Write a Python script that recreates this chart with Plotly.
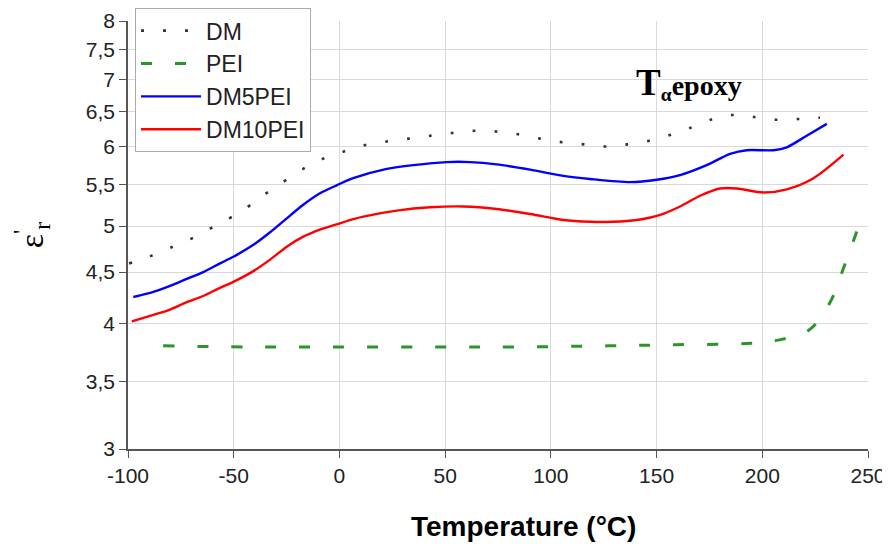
import plotly.graph_objects as go

# ---- data ----
dm_x = [-99.5, -89.1, -79.7, -70.7, -61.2, -52.7, -43.7, -35.2, -26.7, -17.2, -8.2, 1.8, 12.1, 22.4,
        32.9, 42.9, 53.4, 63.7, 74.1, 84.6, 94.9, 105.2, 115.7, 126.0, 136.2, 146.5, 156.4, 165.8,
        175.6, 186.0, 196.1, 206.5, 217.1, 227.3]
dm_y = [4.59, 4.67, 4.76, 4.85, 4.97, 5.08, 5.22, 5.38, 5.53, 5.70, 5.83, 5.93, 6.02, 6.07,
        6.11, 6.15, 6.19, 6.22, 6.21, 6.17, 6.11, 6.06, 6.03, 6.00, 6.03, 6.08, 6.16, 6.26,
        6.38, 6.45, 6.42, 6.38, 6.39, 6.41]

pei_x = [-83.4, -42.3, 0.3, 52.3, 79.3, 127.1, 159.2, 191.9, 207.5, 222.1, 232.1, 238.4, 245.3]
pei_y = [3.80, 3.79, 3.79, 3.79, 3.79, 3.80, 3.81, 3.82, 3.85, 3.94, 4.20, 4.54, 4.98]

dm5_x = [-97.5, -88.0, -80.1, -72.2, -64.4, -56.5, -50.2, -40.7, -32.8, -24.9, -17.1, -9.2, -1.3,
         6.5, 22.4, 35.0, 50.8, 61.8, 74.4, 90.2, 105.9, 118.5, 137.5, 150.1, 161.1, 173.7,
         184.8, 192.7, 205.3, 211.6, 221.0, 230.5]
dm5_y = [4.25, 4.30, 4.36, 4.43, 4.50, 4.59, 4.66, 4.79, 4.93, 5.09, 5.25, 5.39, 5.49,
         5.58, 5.70, 5.75, 5.79, 5.79, 5.76, 5.69, 5.61, 5.57, 5.53, 5.56, 5.62, 5.75,
         5.90, 5.95, 5.95, 5.99, 6.15, 6.32]

dm10_x = [-98.2, -88.0, -80.1, -72.2, -64.4, -56.5, -50.2, -40.7, -32.8, -24.9, -17.1, -9.2, -1.3,
          6.5, 11.3, 27.1, 42.9, 58.6, 74.4, 90.2, 105.9, 118.5, 129.6, 140.6, 151.7, 161.1,
          170.6, 180.0, 187.9, 200.5, 211.6, 224.2, 238.4]
dm10_y = [4.02, 4.08, 4.13, 4.20, 4.26, 4.34, 4.40, 4.51, 4.63, 4.77, 4.88, 4.96, 5.02,
          5.08, 5.11, 5.18, 5.22, 5.23, 5.20, 5.14, 5.07, 5.05, 5.05, 5.07, 5.13, 5.23,
          5.36, 5.45, 5.45, 5.40, 5.44, 5.58, 5.89]

x_ticks = [-100, -50, 0, 50, 100, 150, 200, 250]
x_ticktext = ["-100", "-50", "0", "50", "100", "150", "200", "250"]
y_ticks = [3, 3.5, 4, 4.5, 5, 5.5, 6, 6.5, 7, 7.5, 8]
y_ticktext = ["3", "3,5", "4", "4,5", "5", "5,5", "6", "6,5", "7", "7,5", "8"]

fig = go.Figure()
fig.add_trace(go.Scatter(x=dm_x, y=dm_y, name="DM", mode="lines",
                         line=dict(color="#333333", width=2.6, dash="3px,19px", shape="spline",
                                   smoothing=0.8)))
fig.add_trace(go.Scatter(x=pei_x, y=pei_y, name="PEI", mode="lines",
                         line=dict(color="#2a962a", width=3, dash="11px,23px", shape="spline")))
fig.add_trace(go.Scatter(x=dm5_x, y=dm5_y, name="DM5PEI", mode="lines",
                         line=dict(color="#0000ff", width=2.4, shape="spline", smoothing=0.8)))
fig.add_trace(go.Scatter(x=dm10_x, y=dm10_y, name="DM10PEI", mode="lines",
                         line=dict(color="#ff0000", width=2.4, shape="spline", smoothing=0.8)))

fig.add_annotation(xref="paper", yref="paper", x=0.535, y=-0.182, xanchor="center", yanchor="middle",
                   text="<b>Temperature (°C)</b>", showarrow=False,
                   font=dict(family="Liberation Sans", size=28, color="#000000"))
fig.add_annotation(xref="x", yref="paper", x=139.5, y=0.855, xanchor="left", yanchor="middle",
                   text="<b><span style='font-size:37px'>T</span><sub>α</sub>epoxy</b>",
                   showarrow=False,
                   font=dict(family="Liberation Serif", size=28, color="#000000"))

fig.update_layout(
    width=882, height=536,
    margin=dict(l=120, r=22, t=13, b=95, autoexpand=False),
    paper_bgcolor="white", plot_bgcolor="white",
    separators=", ",
    font=dict(family="Liberation Sans", size=21, color="#222222"),
    legend=dict(x=0.0095, y=1.03, xanchor="left", yanchor="top",
                bgcolor="white", bordercolor="#aaaaaa", borderwidth=1,
                font=dict(family="Liberation Sans", size=23, color="#222222"),
                itemwidth=60, tracegroupgap=0),
    xaxis=dict(range=[-100, 250], tickvals=x_ticks, ticktext=x_ticktext, automargin=False,
               showgrid=True, gridcolor="#d9d9d9", gridwidth=1,
               showline=True, linecolor="#555555", linewidth=1.5,
               ticks="outside", ticklen=7, tickcolor="#555555", zeroline=False,
               tickfont=dict(size=21, color="#222222")),
    yaxis=dict(type="log", range=[0.47712, 0.90309], tickvals=y_ticks, ticktext=y_ticktext,
               automargin=False,
               showgrid=True, gridcolor="#d9d9d9", gridwidth=1,
               showline=True, linecolor="#555555", linewidth=1.5,
               ticks="outside", ticklen=7, tickcolor="#555555", zeroline=False,
               tickfont=dict(size=21, color="#222222"),
               title=dict(text="ε<sup>'</sup><sub>r</sub>", standoff=34,
                          font=dict(family="Liberation Serif", size=34, color="#000000"))),
)

fig.write_html("out.html")
